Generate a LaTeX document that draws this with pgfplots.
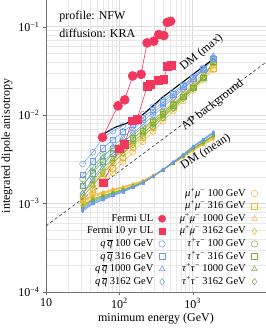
\documentclass[border=0pt]{standalone}
\usepackage{fontspec}
\setmainfont{Liberation Serif}
\usepackage{pgfplots}
\pgfplotsset{compat=1.18}
\usepackage{pgfplotstable}
\definecolor{fred}{HTML}{F2365E}
\definecolor{cqq}{HTML}{6A9BF0}
\definecolor{cmu}{HTML}{F2B630}
\definecolor{ctau}{HTML}{72B33C}
\newcommand{\mumu}{\textit{μ}\textsuperscript{+}\textit{μ}\textsuperscript{−}}
\newcommand{\tautau}{\textit{τ}\textsuperscript{+}\textit{τ}\textsuperscript{−}}
\newcommand{\qq}{\textit{q}\,$\overline{\mbox{\textit{q}}}$}

\pgfplotstableread{
x q100 q316 q1000 q3162 t100 t316 t1000 t3162 m100 m316 m1000 m3162
31.6 0.0028 0.0021 0.0016 0.0013 0.0019 0.0016 0.0013 0.0012 0.0010 0.0011 0.0012 0.0013
43.4 0.0038 0.0030 0.0023 0.0019 0.0026 0.0022 0.0018 0.0016 0.00131 0.00145 0.0016 0.0017
59.4 0.0055 0.0042 0.0033 0.0027 0.0035 0.0030 0.0025 0.0022 0.00171 0.0019 0.0021 0.0023
81.5 0.0066 0.0053 0.0044 0.0037 0.0042 0.0037 0.0032 0.0029 0.00223 0.0025 0.0028 0.0031
111.7 0.0076 0.0065 0.0056 0.0049 0.0050 0.0045 0.0040 0.0037 0.00292 0.0033 0.0037 0.0041
153 0.0087 0.0078 0.0070 0.0062 0.0060 0.0055 0.0050 0.0046 0.0038 0.0043 0.0048 0.0053
210 0.0102 0.0094 0.0086 0.0078 0.0072 0.0067 0.0062 0.0058 0.0050 0.0056 0.0062 0.0068
288 0.0124 0.0115 0.0106 0.0098 0.0088 0.0083 0.0078 0.0073 0.0065 0.0073 0.0080 0.0087
394 0.0150 0.0140 0.0131 0.0123 0.0108 0.0103 0.0098 0.0093 0.0085 0.0095 0.0103 0.0111
541 0.0180 0.0172 0.0163 0.0155 0.0134 0.0129 0.0124 0.0119 0.0111 0.0123 0.0132 0.0142
741 0.0220 0.0212 0.0203 0.0196 0.0167 0.0162 0.0157 0.0153 0.0145 0.0160 0.0170 0.0180
1016 0.0270 0.0262 0.0253 0.0248 0.0210 0.0205 0.0200 0.0197 0.0190 0.0206 0.0218 0.0230
1393 0.0340 0.0330 0.0325 0.0330 0.0270 0.0265 0.0262 0.0260 0.0248 0.0265 0.0280 0.0292
1910 0.0440 0.0430 0.0440 0.0460 0.0390 0.0400 0.0405 0.0410 0.0324 0.0340 0.0355 0.0370
}\dmmax

\pgfplotstableread{
x q100 q316 q1000 q3162 t100 t316 t1000 t3162 m100 m316 m1000 m3162
31.6 0.000817 0.000836 0.000855 0.000874 0.000903 0.000922 0.000941 0.00096 0.001007 0.001036 0.001064 0.001083
43.4 0.000988 0.001008 0.001027 0.001046 0.001075 0.001094 0.001114 0.001135 0.001185 0.001215 0.001245 0.001263
59.4 0.001092 0.001111 0.001129 0.001146 0.001171 0.001189 0.001208 0.001228 0.001277 0.001305 0.001332 0.001349
81.5 0.001218 0.001235 0.001253 0.001266 0.001285 0.001303 0.00132 0.001339 0.001388 0.001412 0.001438 0.001451
111.7 0.001345 0.001361 0.001377 0.001389 0.001401 0.001417 0.001433 0.001448 0.001495 0.001517 0.001538 0.001549
153 0.001505 0.00152 0.001533 0.001541 0.001545 0.001558 0.001573 0.001586 0.00163 0.001648 0.001665 0.001672
210 0.001697 0.001708 0.001719 0.001723 0.001719 0.00173 0.001741 0.001751 0.001791 0.001804 0.001816 0.00182
288 0.00201 0.002018 0.002027 0.002022 0.002006 0.002014 0.002022 0.002031 0.002069 0.002075 0.002081 0.002077
394 0.002428 0.00243 0.002435 0.002423 0.00239 0.002395 0.002398 0.002403 0.002435 0.002433 0.00243 0.00242
541 0.002955 0.002952 0.002949 0.002925 0.002871 0.002868 0.002865 0.002865 0.002889 0.002874 0.002862 0.002838
741 0.003593 0.003582 0.003571 0.003535 0.003449 0.003438 0.003427 0.003413 0.003427 0.003398 0.003366 0.00333
1016 0.004453 0.004431 0.004409 0.004347 0.004215 0.004193 0.004171 0.004145 0.004145 0.004088 0.004035 0.003973
1393 0.005335 0.005294 0.005257 0.005169 0.004987 0.00495 0.004909 0.004867 0.004841 0.004758 0.00467 0.004586
1910 0.006448 0.006386 0.006324 0.0062 0.005952 0.00589 0.005828 0.005766 0.005704 0.00558 0.005456 0.005332
}\dmmean

\pgfplotstableread{
x y
59 0.00561
95.9 0.01272
118.3 0.01486
152 0.0277
198 0.0289
239 0.0656
295 0.0684
345 0.0813
404 0.0792
450 0.1117
500 0.1148
}\fermiul

\pgfplotstableread{
x y
60.4 0.00172
100 0.00415
118 0.00472
149 0.00863
175 0.00902
239 0.0210
266 0.0223
339 0.0249
404 0.0254
450 0.0358
515 0.0365
}\fermiten

\pgfplotstableread{
x y
61 0.00612
88 0.00728
127 0.00813
175 0.0090
227 0.0107
280 0.0125
385 0.0158
585 0.0205
1880 0.0426
}\dmmaxline

\begin{document}
\begin{tikzpicture}
\begin{axis}[
  name=ax,
  scale only axis, width=220pt, height=292pt,
  xmode=log, ymode=log,
  xmin=10, xmax=10000, ymin=1e-4, ymax=0.2,
  axis x line*=bottom, axis y line*=left,
  axis line style={black!55, line width=0.8pt},
  grid=both,
  major grid style={black!14, line width=0.4pt},
  minor grid style={black!9, line width=0.35pt},
  tick align=outside, tick style={black!60}, major tick length=3pt, minor tick length=0pt,
  xtick={10,100,1000}, xticklabels={10, 10\textsuperscript{2}, 10\textsuperscript{3}},
  ytick={1e-4,1e-3,1e-2,1e-1},
  yticklabels={10\textsuperscript{−4},10\textsuperscript{−3},10\textsuperscript{−2},10\textsuperscript{−1}},
  font=\fontsize{12}{14}\selectfont,
  xlabel={minimum energy (GeV)}, ylabel={integrated dipole anisotropy},
  xlabel style={yshift=2pt}, ylabel style={yshift=-1pt},
  legend image code/.code={\path (-6pt,0pt) (4pt,0pt); \draw[#1] plot coordinates {(0pt,0pt)};},
  legend columns=2, legend cell align=right, legend plot pos=right,
  legend style={draw=none, fill=none, inner sep=0pt, at={(0.968,0.013)}, anchor=south east,
    font=\fontsize{10.5}{12}\selectfont, row sep=0pt,
    nodes={inner xsep=2.5pt, inner ysep=1.2pt, text height=7.6pt, text depth=2.6pt},
    /tikz/every even column/.append style={column sep=11pt}},
  every axis plot/.append style={line width=0.5pt},
]
% AP background
\addplot[forget plot, black!80, dashed, dash pattern=on 3pt off 2.5pt, line width=0.6pt] coordinates {(10,5.58e-4) (10000,0.0396)};

% DM mean (filled small markers)
\addplot[forget plot, cmu, mark=*, mark size=1.2pt] table[x=x,y=m100] {\dmmean};
\addplot[forget plot, cmu, mark=square*, mark size=1.1pt] table[x=x,y=m316] {\dmmean};
\addplot[forget plot, cmu, mark=triangle*, mark size=1.4pt] table[x=x,y=m1000] {\dmmean};
\addplot[forget plot, cmu, mark=diamond*, mark size=1.4pt] table[x=x,y=m3162] {\dmmean};
\addplot[forget plot, ctau, mark=*, mark size=1.2pt] table[x=x,y=t100] {\dmmean};
\addplot[forget plot, ctau, mark=square*, mark size=1.1pt] table[x=x,y=t316] {\dmmean};
\addplot[forget plot, ctau, mark=triangle*, mark size=1.4pt] table[x=x,y=t1000] {\dmmean};
\addplot[forget plot, ctau, mark=diamond*, mark size=1.4pt] table[x=x,y=t3162] {\dmmean};
\addplot[forget plot, cqq, mark=*, mark size=1.2pt] table[x=x,y=q100] {\dmmean};
\addplot[forget plot, cqq, mark=square*, mark size=1.1pt] table[x=x,y=q316] {\dmmean};
\addplot[forget plot, cqq, mark=triangle*, mark size=1.4pt] table[x=x,y=q1000] {\dmmean};
\addplot[forget plot, cqq, mark=diamond*, mark size=1.4pt] table[x=x,y=q3162] {\dmmean};

% DM max (open markers)
\addplot[forget plot, cmu, mark=o, mark size=3pt] table[x=x,y=m100] {\dmmax};
\addplot[forget plot, cmu, mark=square, mark size=2.7pt] table[x=x,y=m316] {\dmmax};
\addplot[forget plot, cmu, mark=triangle, mark size=3.3pt] table[x=x,y=m1000] {\dmmax};
\addplot[forget plot, cmu, mark=diamond, mark size=3.3pt] table[x=x,y=m3162] {\dmmax};
\addplot[forget plot, ctau, mark=o, mark size=3pt] table[x=x,y=t100] {\dmmax};
\addplot[forget plot, ctau, mark=square, mark size=2.7pt] table[x=x,y=t316] {\dmmax};
\addplot[forget plot, ctau, mark=triangle, mark size=3.3pt] table[x=x,y=t1000] {\dmmax};
\addplot[forget plot, ctau, mark=diamond, mark size=3.3pt] table[x=x,y=t3162] {\dmmax};
\addplot[forget plot, cqq, mark=o, mark size=3pt] table[x=x,y=q100] {\dmmax};
\addplot[forget plot, cqq, mark=square, mark size=2.7pt] table[x=x,y=q316] {\dmmax};
\addplot[forget plot, cqq, mark=triangle, mark size=3.3pt] table[x=x,y=q1000] {\dmmax};
\addplot[forget plot, cqq, mark=diamond, mark size=3.3pt] table[x=x,y=q3162] {\dmmax};

% envelope
\addplot[forget plot, black, line width=1.1pt, no marks] table[x=x,y=y] {\dmmaxline};

% Fermi
\addplot[forget plot, fred, line width=0.6pt, mark=*, mark size=4.5pt] table[x=x,y=y] {\fermiul};
\addplot[forget plot, fred, line width=0.6pt, mark=square*, mark size=3.9pt] table[x=x,y=y] {\fermiten};

% annotations
\node[rotate=39, font=\fontsize{12}{14}\selectfont] at (axis cs:1327,0.051) {DM (max)};
\node[rotate=38, font=\fontsize{12}{14}\selectfont] at (axis cs:1880,0.0129) {AP background};
\node[rotate=33, font=\fontsize{12}{14}\selectfont] at (axis cs:1507,0.00384) {DM (mean)};
\node[anchor=west, font=\fontsize{12}{14}\selectfont] at (rel axis cs:0.045,0.942) {profile: NFW};
\node[anchor=west, font=\fontsize{12}{14}\selectfont] at (rel axis cs:0.045,0.887) {diffusion: KRA};

% legend
\addlegendimage{empty legend}\addlegendentry{}
\addlegendimage{cmu, mark=o, mark size=3.2pt}\addlegendentry{\mumu{} 100 GeV}
\addlegendimage{empty legend}\addlegendentry{}
\addlegendimage{cmu, mark=square, mark size=2.8pt}\addlegendentry{\mumu{} 316 GeV}
\addlegendimage{fred, mark=*, mark size=3.6pt}\addlegendentry{Fermi UL}
\addlegendimage{cmu, mark=triangle, mark size=3.2pt}\addlegendentry{\mumu{} 1000 GeV}
\addlegendimage{fred, mark=square*, mark size=3.1pt}\addlegendentry{Fermi 10 yr UL}
\addlegendimage{cmu, mark=diamond, mark size=3.2pt}\addlegendentry{\mumu{} 3162 GeV}
\addlegendimage{cqq, mark=o, mark size=3.2pt}\addlegendentry{\qq{} 100 GeV}
\addlegendimage{ctau, mark=o, mark size=3.2pt}\addlegendentry{\tautau{} 100 GeV}
\addlegendimage{cqq, mark=square, mark size=2.8pt}\addlegendentry{\qq{} 316 GeV}
\addlegendimage{ctau, mark=square, mark size=2.8pt}\addlegendentry{\tautau{} 316 GeV}
\addlegendimage{cqq, mark=triangle, mark size=3.2pt}\addlegendentry{\qq{} 1000 GeV}
\addlegendimage{ctau, mark=triangle, mark size=3.2pt}\addlegendentry{\tautau{} 1000 GeV}
\addlegendimage{cqq, mark=diamond, mark size=3.2pt}\addlegendentry{\qq{} 3162 GeV}
\addlegendimage{ctau, mark=diamond, mark size=3.2pt}\addlegendentry{\tautau{} 3162 GeV}
\end{axis}
\pgfresetboundingbox
\path ([xshift=-46pt,yshift=-39pt]ax.south west) rectangle (ax.north east);
\end{tikzpicture}
\end{document}
